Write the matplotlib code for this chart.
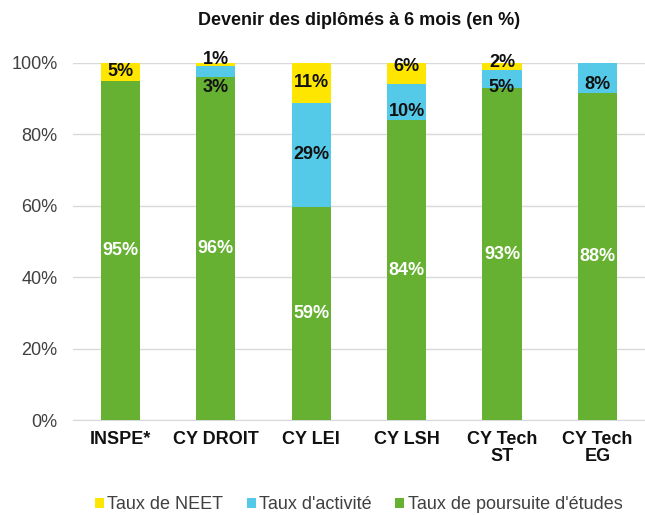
import matplotlib.pyplot as plt
import numpy as np

plt.rcParams['font.family'] = ['Liberation Sans', 'DejaVu Sans']

# data (raw values, the chart is a 100% stacked bar)
categories = ["INSPE*", "CY DROIT", "CY LEI", "CY LSH", "CY Tech\nST", "CY Tech\nEG"]
poursuite = [95, 96, 59, 84, 93, 88]
activite = [0, 3, 29, 10, 5, 8]
neet = [5, 1, 11, 6, 2, 0]

green = "#66B032"
cyan = "#55C9E8"
yellow = "#FFE600"

p = np.array(poursuite, float)
a = np.array(activite, float)
n = np.array(neet, float)
tot = p + a + n
p_s, a_s, n_s = p / tot, a / tot, n / tot

x = np.arange(len(categories))
w = 0.41

fig = plt.figure(figsize=(6.45, 5.15), dpi=100)
ax = fig.add_axes([0.113, 0.184, 0.887, 0.694])

ax.bar(x, p_s, w, color=green, label="Taux de poursuite d'études", zorder=3)
ax.bar(x, a_s, w, bottom=p_s, color=cyan, label="Taux d'activité", zorder=3)
ax.bar(x, n_s, w, bottom=p_s + a_s, color=yellow, label="Taux de NEET", zorder=3)

# label nudges (in axis fraction) where excel moved labels around
nudge_a = {1: -0.045, 3: -0.025, 4: -0.025, 5: -0.02}
nudge_n = {1: 0.013, 3: 0.02, 4: 0.01}

fs = 13
for i in range(len(categories)):
    ax.text(x[i], p_s[i] / 2, f"{poursuite[i]}%", ha="center", va="center",
            color="white", fontsize=fs, fontweight="bold", zorder=4)
    if activite[i]:
        ax.text(x[i], p_s[i] + a_s[i] / 2 + nudge_a.get(i, 0), f"{activite[i]}%",
                ha="center", va="center", color="#111111", fontsize=fs,
                fontweight="bold", zorder=4)
    if neet[i]:
        ax.text(x[i], p_s[i] + a_s[i] + n_s[i] / 2 + nudge_n.get(i, 0), f"{neet[i]}%",
                ha="center", va="center", color="#111111", fontsize=fs,
                fontweight="bold", zorder=4)

ax.set_xlim(-0.5, len(categories) - 0.5)
ax.set_ylim(0, 1)
ax.set_yticks(np.arange(0, 1.01, 0.2))
ax.set_yticklabels([f"{int(v * 100)}%" for v in np.arange(0, 1.01, 0.2)],
                   fontsize=13, color="#404040")
ax.set_xticks(x)
ax.set_xticklabels(categories, fontsize=13, fontweight="bold", color="#111111",
                   linespacing=1.0)
ax.tick_params(axis="both", length=0)
ax.tick_params(axis="y", pad=11)
ax.tick_params(axis="x", pad=8)
ax.grid(axis="y", color="#D9D9D9", linewidth=1, zorder=0)
for s in ["top", "right", "left"]:
    ax.spines[s].set_visible(False)
ax.spines["bottom"].set_color("#D9D9D9")

fig.text(0.556, 0.96, "Devenir des diplômés à 6 mois (en %)", ha="center", va="center",
         fontsize=13, fontweight="bold", color="#111111")

h, l = ax.get_legend_handles_labels()
fig.legend(h[::-1], l[::-1], loc="center", bbox_to_anchor=(0.556, 0.02), ncol=3,
           frameon=False, fontsize=13, handlelength=0.5, handleheight=0.5,
           handletextpad=0.2, columnspacing=1.3, labelcolor="#404040")

fig.savefig("out.png", dpi=100)
